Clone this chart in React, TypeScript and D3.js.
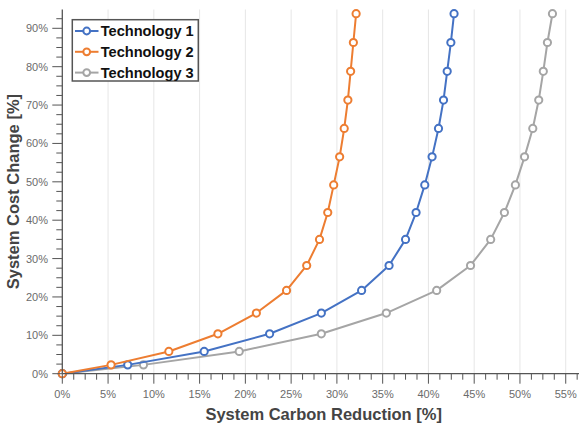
import * as d3 from "d3";

// shared cost-change levels (y) for every technology
const costChange = [0, 2.3, 5.8, 10.4, 15.8, 21.7, 28.2, 35.0, 42.0, 49.2, 56.5, 63.9, 71.3, 78.8, 86.3, 93.8];

const tech1Reduction = [0, 7.15, 15.5, 22.65, 28.3, 32.7, 35.7, 37.5, 38.65, 39.6, 40.4, 41.1, 41.65, 42.05, 42.45, 42.8];
const tech2Reduction = [0, 5.33, 11.64, 17.0, 21.2, 24.5, 26.7, 28.1, 29.0, 29.65, 30.3, 30.8, 31.2, 31.5, 31.8, 32.1];
const tech3Reduction = [0, 8.87, 19.33, 28.3, 35.4, 40.9, 44.6, 46.8, 48.3, 49.5, 50.5, 51.4, 52.05, 52.55, 53.0, 53.55];

const seriesNames = ["Technology 1", "Technology 2", "Technology 3"];
const seriesColors = ["#4472C4", "#ED7D31", "#A5A5A5"];

const xTicks = [0, 5, 10, 15, 20, 25, 30, 35, 40, 45, 50, 55];
const yTicks = [0, 10, 20, 30, 40, 50, 60, 70, 80, 90];

const WIDTH = 579;
const HEIGHT = 425;
const PLOT = { left: 62.3, right: 579, top: 9.5, bottom: 373.7 };
const FONT = "'Liberation Sans', Arial, Helvetica, sans-serif";

export default function App() {
  const x = d3.scaleLinear().domain([0, 56.45]).range([PLOT.left, PLOT.right]);
  const y = d3.scaleLinear().domain([0, 94.9]).range([PLOT.bottom, PLOT.top]);

  const allX = [tech1Reduction, tech2Reduction, tech3Reduction];
  const series = seriesNames.map((name, i) => ({
    name,
    color: seriesColors[i],
    points: allX[i].map((v, j) => ({ x: v, y: costChange[j] })),
  }));

  const line = d3
    .line<{ x: number; y: number }>()
    .x((d) => x(d.x))
    .y((d) => y(d.y));

  const xMinor = d3.range(0, 56.45, 1.25);
  const yMinor = d3.range(0, 94.9, 2.5);

  // draw order: gray underneath, then blue, then orange
  const drawOrder = [2, 0, 1];

  return (
    <svg width={WIDTH} height={HEIGHT} style={{ position: "absolute", left: 0, top: 0 }} fontFamily={FONT}>
      <rect width={WIDTH} height={HEIGHT} fill="#fff" />

      {/* vertical grid */}
      {xTicks.slice(1).map((t) => (
        <line key={t} x1={x(t)} x2={x(t)} y1={PLOT.top} y2={PLOT.bottom} stroke="#e6e6e6" strokeWidth={1} />
      ))}

      {/* lines + markers */}
      {drawOrder.map((i) => {
        const s = series[i];
        return (
          <g key={s.name}>
            <path d={line(s.points) ?? ""} fill="none" stroke={s.color} strokeWidth={2} strokeLinejoin="round" />
            {s.points.map((p, j) => (
              <circle key={j} cx={x(p.x)} cy={y(p.y)} r={3.6} fill="#fff" stroke={s.color} strokeWidth={2} />
            ))}
          </g>
        );
      })}

      {/* x axis */}
      <line x1={PLOT.left} x2={PLOT.right} y1={PLOT.bottom} y2={PLOT.bottom} stroke="#555" strokeWidth={1.3} />
      {xMinor.map((t) => (
        <line key={t} x1={x(t)} x2={x(t)} y1={PLOT.bottom} y2={PLOT.bottom + (t % 5 === 0 ? 10 : 6)} stroke="#555" strokeWidth={1} />
      ))}
      {xTicks.map((t) => (
        <text key={t} x={x(t)} y={398} textAnchor="middle" fontSize={11} fill="#6b6b6b">
          {t}%
        </text>
      ))}

      {/* y axis */}
      <line x1={PLOT.left} x2={PLOT.left} y1={PLOT.top} y2={PLOT.bottom} stroke="#555" strokeWidth={1.3} />
      {yMinor.map((t) => (
        <line key={t} x1={PLOT.left - (t % 10 === 0 ? 10 : 6)} x2={PLOT.left} y1={y(t)} y2={y(t)} stroke="#555" strokeWidth={1} />
      ))}
      {yTicks.map((t) => (
        <text key={t} x={48} y={y(t) + 4} textAnchor="end" fontSize={11} fill="#6b6b6b">
          {t}%
        </text>
      ))}

      {/* axis titles */}
      <text x={(PLOT.left + PLOT.right) / 2 + 3} y={420} textAnchor="middle" fontSize={16.5} fontWeight="bold" fill="#444">
        System Carbon Reduction [%]
      </text>
      <text
        transform={`translate(19,${(PLOT.top + PLOT.bottom) / 2}) rotate(-90)`}
        textAnchor="middle"
        fontSize={16.5}
        fontWeight="bold"
        fill="#444"
      >
        System Cost Change [%]
      </text>

      {/* legend */}
      <g>
        <rect x={72.3} y={19.7} width={126} height={61.3} fill="#fff" stroke="#555" strokeWidth={1.5} />
        {series.map((s, i) => {
          const cy = 31 + i * 20.8;
          return (
            <g key={s.name}>
              <line x1={75} x2={98.5} y1={cy} y2={cy} stroke={s.color} strokeWidth={2} />
              <circle cx={86.7} cy={cy} r={3.4} fill="#fff" stroke={s.color} strokeWidth={2} />
              <text x={100.7} y={cy + 5.2} fontSize={14.6} fontWeight="bold" fill="#111">
                {s.name}
              </text>
            </g>
          );
        })}
      </g>
    </svg>
  );
}
